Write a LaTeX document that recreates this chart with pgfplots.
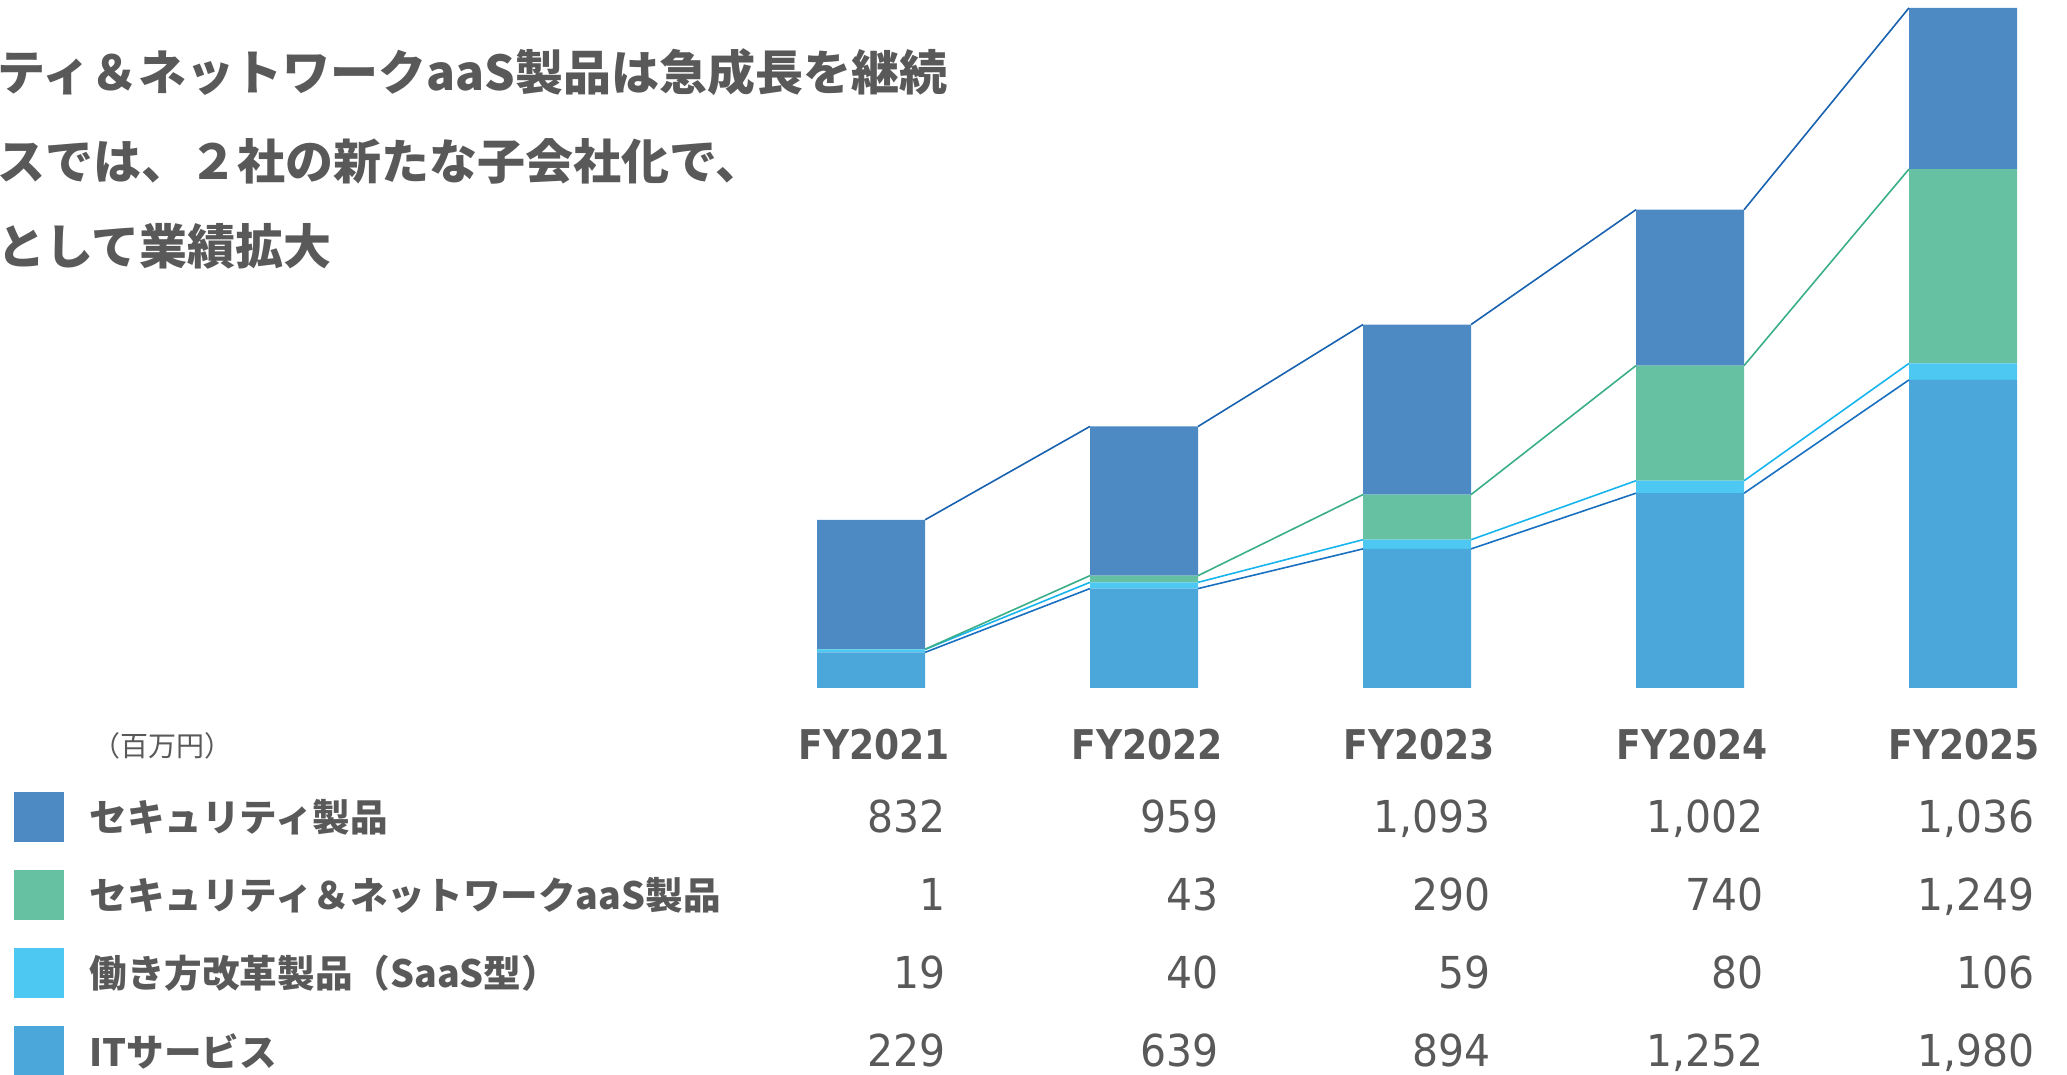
\documentclass[border=0pt]{standalone}
\usepackage{fontspec}
\usepackage{pgfplots}
\pgfplotsset{compat=1.18}
\setmainfont{DejaVu Sans}
\newfontfamily\jp{Noto Sans CJK JP}
\newfontfamily\num[FakeStretch=0.93]{DejaVu Sans}
\newfontfamily\head[FakeStretch=0.88]{DejaVu Sans}

\definecolor{txt}{HTML}{595959}
\definecolor{secc}{HTML}{4D8AC4}
\definecolor{aasc}{HTML}{66C1A3}
\definecolor{saasc}{HTML}{4DC8F2}
\definecolor{itc}{HTML}{4BA6DA}
\definecolor{secl}{HTML}{1862B0}
\definecolor{aasl}{HTML}{3AAE88}
\definecolor{saasl}{HTML}{18B4EE}
\definecolor{itl}{HTML}{1A70C0}

% shared geometry: 1px of the reference = 0.5pt
\pgfplotsset{
  base/.style={
    at={(367.25pt,193.5pt)}, anchor=south west,
    scale only axis, width=682.5pt, height=344pt,
    xmin=-0.5, xmax=4.5, ymin=0, ymax=4422,
    axis lines=none, xtick=\empty, ytick=\empty, clip=false,
  },
}

\begin{document}
\begin{tikzpicture}[x=0.5pt,y=0.5pt]
\useasboundingbox (0,0) rectangle (2067,1075);

% stacked bars
\begin{axis}[base, ybar stacked, bar width=54pt]
\addplot[fill=itc, draw=none] coordinates {(0,229) (1,639) (2,894) (3,1252) (4,1980)};
\addplot[fill=saasc, draw=none] coordinates {(0,19) (1,40) (2,59) (3,80) (4,106)};
\addplot[fill=aasc, draw=none] coordinates {(0,1) (1,43) (2,290) (3,740) (4,1249)};
\addplot[fill=secc, draw=none] coordinates {(0,832) (1,959) (2,1093) (3,1002) (4,1036)};
\end{axis}

% connector lines between the bars (cumulative tops)
\begin{axis}[base, unbounded coords=jump]
\addplot[itl, line width=0.8pt] coordinates {
  (0.198,229) (0.802,639) (1,nan) (1.198,639) (1.802,894) (2,nan)
  (2.198,894) (2.802,1252) (3,nan) (3.198,1252) (3.802,1980)};
\addplot[saasl, line width=0.8pt] coordinates {
  (0.198,248) (0.802,679) (1,nan) (1.198,679) (1.802,953) (2,nan)
  (2.198,953) (2.802,1332) (3,nan) (3.198,1332) (3.802,2086)};
\addplot[aasl, line width=0.8pt] coordinates {
  (0.198,249) (0.802,722) (1,nan) (1.198,722) (1.802,1243) (2,nan)
  (2.198,1243) (2.802,2072) (3,nan) (3.198,2072) (3.802,3335)};
\addplot[secl, line width=0.8pt] coordinates {
  (0.198,1081) (0.802,1681) (1,nan) (1.198,1681) (1.802,2336) (2,nan)
  (2.198,2336) (2.802,3074) (3,nan) (3.198,3074) (3.802,4371)};
\end{axis}

% headline text, flush with the left edge
\begin{scope}[every node/.style={anchor=west, inner sep=0pt, text=txt, font=\jp\bfseries\fontsize{24}{28}\selectfont}]
\node at (-3,1003) {ティ＆ネットワークaaS製品は急成長を継続};
\node at (-3,914) {スでは、２社の新たな子会社化で、};
\node at (-3,829) {として業績拡大};
\end{scope}

% table
\node[text=txt, font=\jp\fontsize{14}{17}\selectfont] at (162,329) {（百万円）};
\begin{scope}[every node/.style={anchor=base east, inner sep=0pt, text=txt}]
\foreach \x/\n in {950/FY2021, 1223/FY2022, 1495/FY2023, 1768/FY2024, 2040/FY2025}
  \node[font=\head\bfseries\fontsize{20.5}{24}\selectfont] at (\x,315) {\n};
\end{scope}

\begin{scope}[every node/.style={anchor=base east, inner sep=0pt, text=txt, font=\num\fontsize{22}{26}\selectfont}]
\node at (946,242) {832};   \node at (1219,242) {959};  \node at (1491,242) {1,093}; \node at (1764,242) {1,002}; \node at (2035,242) {1,036};
\node at (946,164) {1};     \node at (1219,164) {43};   \node at (1491,164) {290};   \node at (1764,164) {740};   \node at (2035,164) {1,249};
\node at (946,86) {19};     \node at (1219,86) {40};    \node at (1491,86) {59};     \node at (1764,86) {80};     \node at (2035,86) {106};
\node at (946,8) {229};     \node at (1219,8) {639};    \node at (1491,8) {894};     \node at (1764,8) {1,252};   \node at (2035,8) {1,980};
\end{scope}

% legend keys and series names
\fill[secc]  (14,233) rectangle (64,283);
\fill[aasc]  (14,155) rectangle (64,205);
\fill[saasc] (14,77) rectangle (64,127);
\fill[itc]   (14,0) rectangle (64,49);
\begin{scope}[every node/.style={anchor=west, inner sep=0pt, text=txt, font=\jp\bfseries\fontsize{18.8}{23}\selectfont}]
\node at (89,258) {セキュリティ製品};
\node at (89,180) {セキュリティ＆ネットワークaaS製品};
\node at (89,102) {働き方改革製品（SaaS型）};
\node at (89,24) {ITサービス};
\end{scope}
\end{tikzpicture}
\end{document}
